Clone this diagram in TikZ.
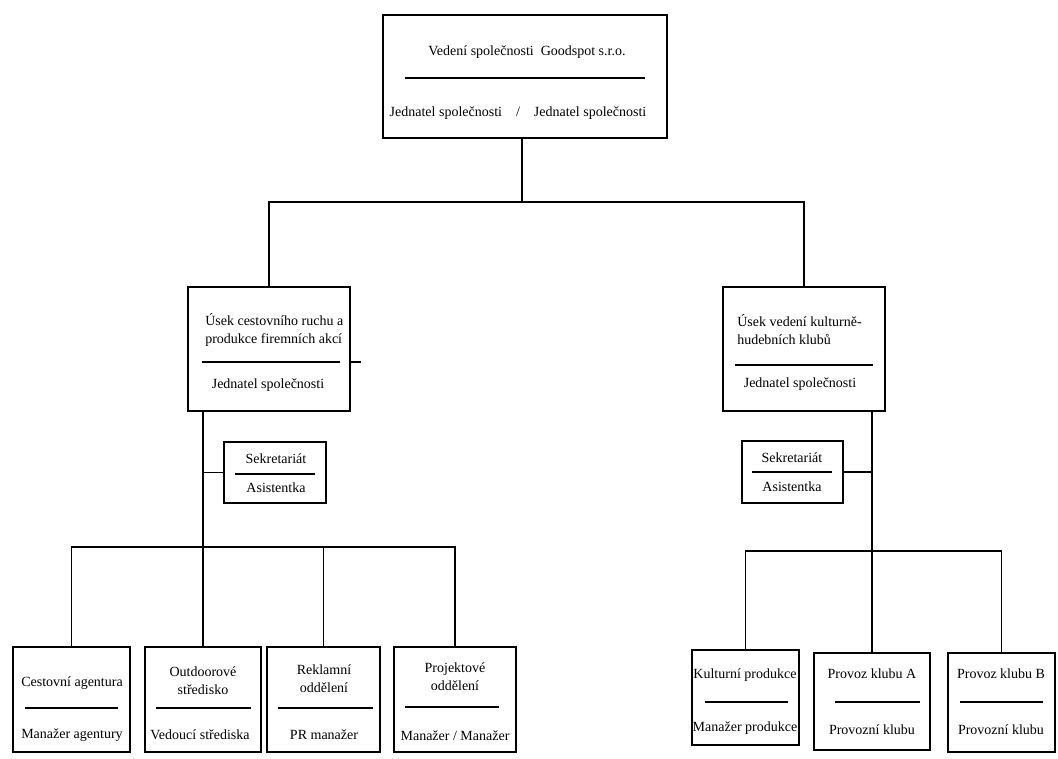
\documentclass[tikz,border=0pt]{standalone}
\usepackage{fontspec}
\setmainfont{Liberation Serif}
\usepackage{tikz}
\usetikzlibrary{positioning}
\usetikzlibrary{fit}
\newcommand{\orgfont}{\fontsize{10.5}{13.5}\selectfont}
\tikzstyle{unit} = [rectangle, draw, inner sep=0pt, line width=0.9pt]
\tikzstyle{lbl} = [inner sep=0pt, font=\orgfont, align=center]
\tikzstyle{lbll} = [inner sep=0pt, font=\orgfont, align=left, anchor=west]
\tikzstyle{line} = [draw, line width=0.8pt]

\begin{document}
\begin{tikzpicture}[x=0.75pt,y=-0.75pt]
	\useasboundingbox (0,0) rectangle (1058,758);
	% vedeni
	\node [unit, fit={(383,15) (667,138)}] (top) {};
	\node [lbl] at (527,52) (top-t) {Vedení společnosti\ \ Goodspot s.r.o.};
	\path [line] (405,78) -- (645,78);
	\node [lbl] at (518,113) (top-b) {Jednatel společnosti\quad/\quad Jednatel společnosti};
	% useky
	\node [unit, fit={(188,287) (350,411)}] (lmid) {};
	\node [lbll] at (205,330) (lmid-t) {Úsek cestovního ruchu a\\produkce firemních akcí};
	\path [line] (202,362) -- (340,362);
	\path [line] ([yshift=-9.75pt]lmid.east) -- ++(10,0);
	\node [lbl] at (268,385) (lmid-b) {Jednatel společnosti};
	\node [unit, fit={(723,287) (885,411)}] (rmid) {};
	\node [lbll] at (737,330) (rmid-t) {Úsek vedení kulturně-\\hudebních klubů};
	\path [line] (735,365) -- (873,365);
	\node [lbl] at (800,384) (rmid-b) {Jednatel společnosti};
	% sekretariat
	\node [unit, fit={(224,442) (326,503)}] (lsek) {};
	\node [lbl] at (276,459) (lsek-t) {Sekretariát};
	\path [line] (235,474) -- (315,474);
	\node [lbl] at (276,488) (lsek-b) {Asistentka};
	\node [unit, fit={(742,441) (843,503)}] (rsek) {};
	\node [lbl] at (792,458) (rsek-t) {Sekretariát};
	\path [line] (752,472) -- (832,472);
	\node [lbl] at (792,487) (rsek-b) {Asistentka};
	% oddeleni vlevo
	\node [unit, fit={(13,647) (130,752)}] (c1) {};
	\node [lbl] at (72,683) (c1-t) {Cestovní agentura};
	\path [line] (25,708) -- (118,708);
	\node [lbl] at (72,735) (c1-b) {Manažer agentury};
	\node [unit, fit={(145,647) (261,752)}] (c2) {};
	\node [lbl] at (203,681) (c2-t) {Outdoorové\\středisko};
	\path [line] (156,708) -- (251,708);
	\node [lbl] at (200,735) (c2-b) {Vedoucí střediska};
	\node [unit, fit={(267,647) (380,752)}] (c3) {};
	\node [lbl] at (324,679) (c3-t) {Reklamní\\oddělení};
	\path [line] (278,708) -- (373,708);
	\node [lbl] at (324,735) (c3-b) {PR manažer};
	\node [unit, fit={(394,647) (516,752)}] (c4) {};
	\node [lbl] at (455,677) (c4-t) {Projektové\\oddělení};
	\path [line] (405,707) -- (499,707);
	\node [lbl] at (455,736) (c4-b) {Manažer / Manažer};
	% kluby vpravo
	\node [unit, fit={(692,650) (799,745)}] (c5) {};
	\node [lbl] at (745,675) (c5-t) {Kulturní produkce};
	\path [line] (705,702) -- (788,702);
	\node [lbl] at (745,728) (c5-b) {Manažer produkce};
	\node [unit, fit={(814,653) (930,750)}] (c6) {};
	\node [lbl] at (872,674) (c6-t) {Provoz klubu A};
	\path [line] (835,702) -- (920,702);
	\node [lbl] at (872,730) (c6-b) {Provozní klubu};
	\node [unit, fit={(948,653) (1055,752)}] (c7) {};
	\node [lbl] at (1001,674) (c7-t) {Provoz klubu B};
	\path [line] (960,702) -- (1043,702);
	\node [lbl] at (1001,730) (c7-b) {Provozní klubu};
	% spojnice
	\coordinate (jbus) at (522,202);
	\coordinate (lbus) at (203,547);
	\coordinate (rbus) at (872,551);
	\path [line] (top.south -| jbus) -- (jbus);
	\path [line] (lmid.north) |- (jbus) -| (rmid.north);
	\path [line] (lmid.south -| lbus) -- (lbus);
	\path [line] (c1.north) |- (lbus) -| (c4.north);
	\path [line] (c2.north) -- (lbus);
	\path [line] (c3.north) -- (c3.north |- lbus);
	\path [line] (lsek.west) -- (lsek.west -| lbus);
	\path [line] (rmid.south -| rbus) -- (rbus);
	\path [line] (c5.north) |- (rbus) -| (c7.north);
	\path [line] (c6.north) -- (rbus);
	\path [line] (rsek.east) -- (rsek.east -| rbus);
\end{tikzpicture}
\end{document}
